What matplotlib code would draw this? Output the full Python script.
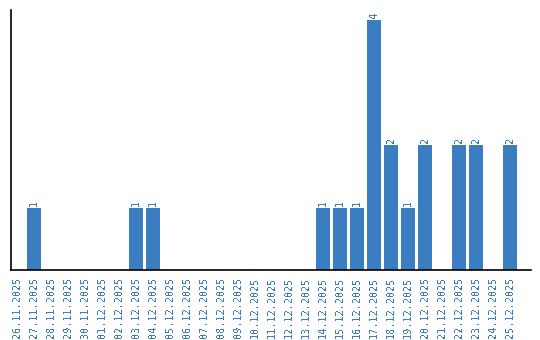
import matplotlib
matplotlib.use("Agg")
import matplotlib.pyplot as plt

dates = ["26.11.2025", "27.11.2025", "28.11.2025", "29.11.2025", "30.11.2025",
         "01.12.2025", "02.12.2025", "03.12.2025", "04.12.2025", "05.12.2025",
         "06.12.2025", "07.12.2025", "08.12.2025", "09.12.2025", "10.12.2025",
         "11.12.2025", "12.12.2025", "13.12.2025", "14.12.2025", "15.12.2025",
         "16.12.2025", "17.12.2025", "18.12.2025", "19.12.2025", "20.12.2025",
         "21.12.2025", "22.12.2025", "23.12.2025", "24.12.2025", "25.12.2025"]
counts = [0, 1, 0, 0, 0, 0, 0, 1, 1, 0,
          0, 0, 0, 0, 0, 0, 0, 0, 1, 1,
          1, 4, 2, 1, 2, 0, 2, 2, 0, 2]

blue = "#3a7dc1"
plt.rcParams["font.family"] = ["DejaVu Sans Mono"]
plt.rcParams["text.antialiased"] = False

fig = plt.figure(figsize=(5.4, 3.4), dpi=100)
ax = fig.add_axes([11/540, 70/340, (530.7-11)/540, 260/340])
x = list(range(len(dates)))
bars = ax.bar(x, counts, width=0.82, color=blue, zorder=2)
for xi, v in zip(x, counts):
    if v > 0:
        ax.text(xi, v + 0.03, str(v), rotation=90, ha="center", va="bottom",
                color=blue, fontsize=7.3)
ax.set_xlim(-0.35, 30.2)
ax.set_ylim(0, 4.16)
ax.set_xticks(x)
ax.set_xticklabels(dates, rotation=90, color=blue, fontsize=7.3)
ax.tick_params(axis="x", length=0, pad=4.5)
ax.set_yticks([])
for s in ["top", "right"]:
    ax.spines[s].set_visible(False)
for s in ["left", "bottom"]:
    ax.spines[s].set_color("black")
    ax.spines[s].set_linewidth(1.2)
fig.savefig("out.png", dpi=100)
